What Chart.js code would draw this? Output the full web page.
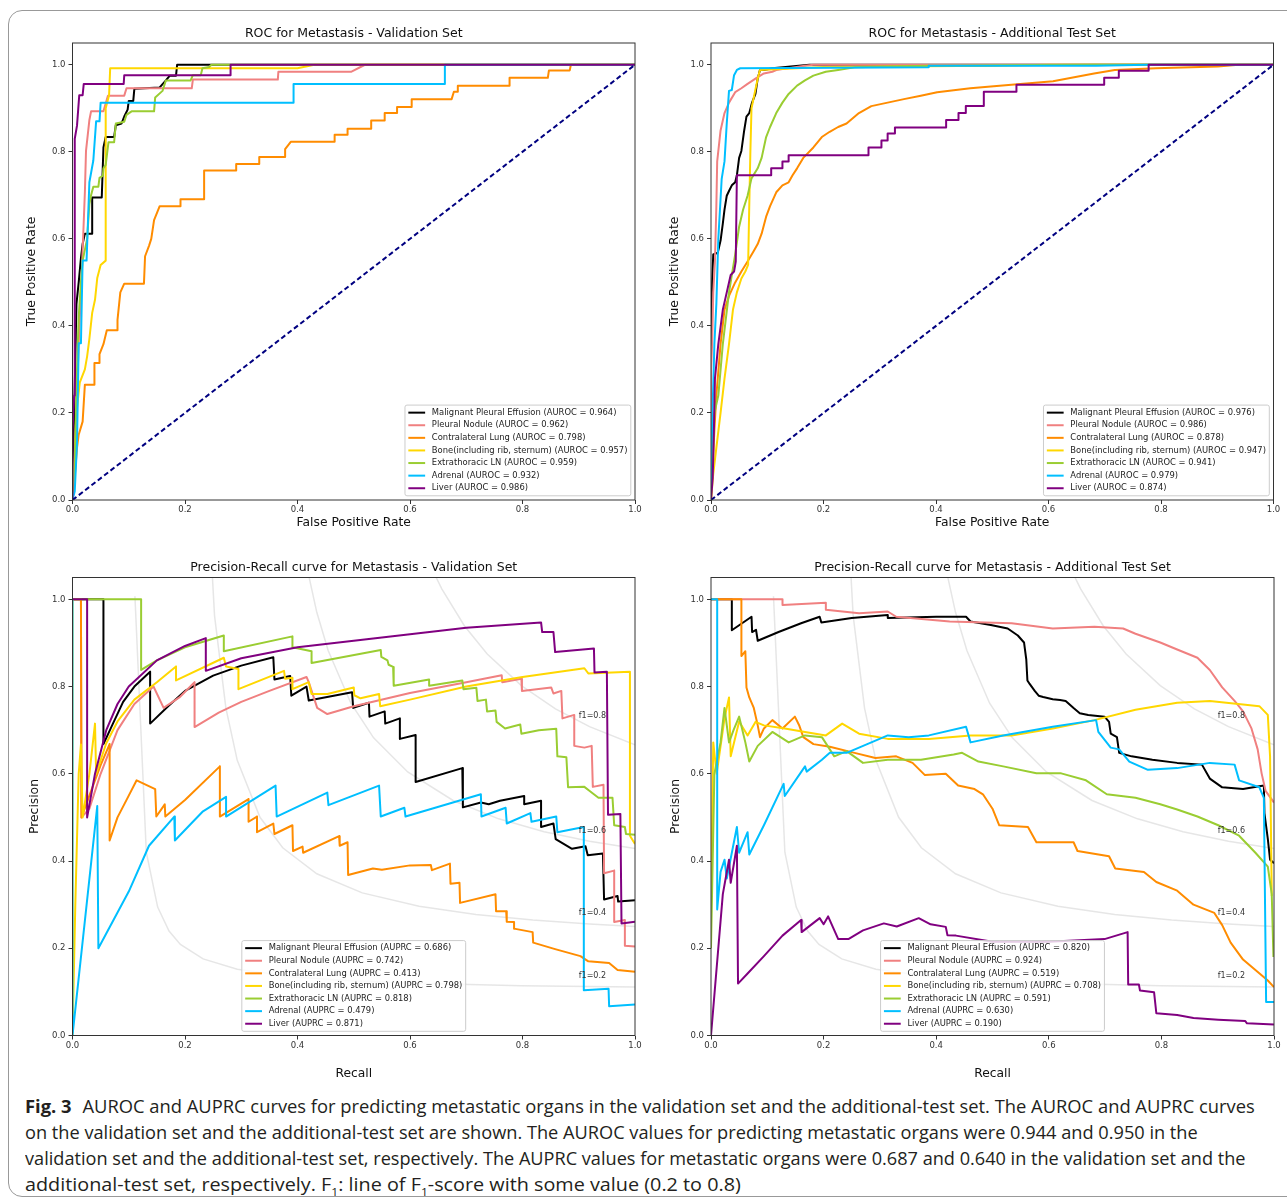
<!DOCTYPE html>
<html>
<head>
<meta charset="utf-8">
<script src="https://cdn.jsdelivr.net/npm/chart.js@4.4.1/dist/chart.umd.min.js"></script>
<style>
  body { margin: 0; width: 1287px; height: 1200px; background: #fff; position: relative; overflow: hidden; }
  .frame { position: absolute; left: 8px; top: 10px; width: 1330px; height: 1187px; border: 1.5px solid #999; border-radius: 14px; box-sizing: border-box; }
  canvas { position: absolute; }
  .cap { position: absolute; left: 25px; height: 26px; line-height: 26px; white-space: nowrap; transform-origin: 0 50%;
         font-family: "Open Sans", "Noto Sans", sans-serif; font-size: 18px; color: #231f20; }
  .cap b { margin-right: 6px; }
  .cap sub { font-size: 11px; line-height: 0; }
</style>
</head>
<body>
<div class="frame"></div>
<canvas id="rocVal"></canvas>
<canvas id="rocTest"></canvas>
<canvas id="prVal"></canvas>
<canvas id="prTest"></canvas>
<div class="cap" style="top:1093px"><b>Fig. 3</b> AUROC and AUPRC curves for predicting metastatic organs in the validation set and the additional-test set. The AUROC and AUPRC curves</div>
<div class="cap" style="top:1119px">on the validation set and the additional-test set are shown. The AUROC values for predicting metastatic organs were 0.944 and 0.950 in the</div>
<div class="cap" style="top:1145px">validation set and the additional-test set, respectively. The AUPRC values for metastatic organs were 0.687 and 0.640 in the validation set and the</div>
<div class="cap" style="top:1171px">additional-test set, respectively. F<sub>1</sub>: line of F<sub>1</sub>-score with some value (0.2 to 0.8)</div>
<script>
// ---- legend text ----
const organNames = ['Malignant Pleural Effusion', 'Pleural Nodule', 'Contralateral Lung', 'Bone(including rib, sternum)', 'Extrathoracic LN', 'Adrenal', 'Liver']
const organColors = ['black', 'lightcoral', 'darkorange', 'gold', 'yellowgreen', 'deepskyblue', 'purple']
const aurocVal = ['0.964', '0.962', '0.798', '0.957', '0.959', '0.932', '0.986']
const aurocTest = ['0.976', '0.986', '0.878', '0.947', '0.941', '0.979', '0.874']
const auprcVal = ['0.686', '0.742', '0.413', '0.798', '0.818', '0.479', '0.871']
const auprcTest = ['0.820', '0.924', '0.519', '0.708', '0.591', '0.630', '0.190']

const axisTicks = [0, 0.2, 0.4, 0.6, 0.8, 1.0]
const chance = [[0, 0], [1, 1]]

// ---- ROC, validation set [fpr, tpr] ----
const rocValMpe = [[0,0],[0.003,0.2],[0.007,0.45],[0.011,0.5],[0.015,0.556],[0.018,0.588],[0.022,0.612],[0.035,0.612],[0.035,0.695],[0.052,0.695],[0.055,0.81],[0.059,0.834],[0.074,0.834],[0.077,0.861],[0.087,0.865],[0.092,0.881],[0.098,0.897],[0.1,0.917],[0.108,0.917],[0.11,0.945],[0.155,0.948],[0.166,0.964],[0.173,0.975],[0.184,0.975],[0.186,1],[1,1]]
const rocValPn = [[0,0],[0.004,0.1],[0.008,0.25],[0.011,0.358],[0.017,0.54],[0.022,0.707],[0.024,0.802],[0.028,0.849],[0.03,0.873],[0.033,0.893],[0.055,0.893],[0.063,0.929],[0.092,0.929],[0.096,0.946],[0.212,0.946],[0.214,0.966],[0.365,0.966],[0.366,0.984],[0.496,0.984],[0.52,1],[1,1]]
const rocValCl = [[0,0],[0.005,0.07],[0.008,0.12],[0.011,0.15],[0.018,0.18],[0.022,0.265],[0.039,0.265],[0.039,0.315],[0.048,0.315],[0.048,0.335],[0.055,0.358],[0.061,0.39],[0.08,0.39],[0.08,0.414],[0.085,0.477],[0.092,0.497],[0.127,0.497],[0.129,0.56],[0.136,0.584],[0.14,0.6],[0.145,0.643],[0.155,0.675],[0.192,0.675],[0.192,0.691],[0.234,0.691],[0.234,0.757],[0.291,0.757],[0.291,0.772],[0.332,0.772],[0.332,0.788],[0.378,0.788],[0.378,0.806],[0.388,0.823],[0.466,0.823],[0.466,0.839],[0.489,0.839],[0.489,0.853],[0.531,0.853],[0.531,0.872],[0.555,0.872],[0.555,0.889],[0.577,0.889],[0.577,0.903],[0.603,0.903],[0.603,0.921],[0.674,0.921],[0.678,0.938],[0.684,0.938],[0.685,0.952],[0.777,0.952],[0.777,0.97],[0.845,0.97],[0.847,0.987],[0.884,0.987],[0.886,1],[1,1]]
const rocValBone = [[0,0],[0.004,0.05],[0.007,0.2],[0.013,0.27],[0.022,0.3],[0.026,0.33],[0.03,0.37],[0.035,0.43],[0.04,0.46],[0.044,0.51],[0.05,0.54],[0.059,0.55],[0.059,0.9],[0.065,0.93],[0.067,0.992],[0.4,0.992],[0.43,1],[1,1]]
const rocValLn = [[0,0],[0.004,0.1],[0.008,0.3],[0.011,0.42],[0.015,0.5],[0.018,0.55],[0.026,0.6],[0.03,0.68],[0.033,0.7],[0.037,0.72],[0.046,0.72],[0.048,0.74],[0.054,0.745],[0.055,0.762],[0.059,0.77],[0.064,0.822],[0.074,0.822],[0.077,0.865],[0.092,0.869],[0.096,0.885],[0.105,0.893],[0.145,0.893],[0.147,0.925],[0.16,0.94],[0.166,0.964],[0.21,0.964],[0.214,0.976],[0.228,0.976],[0.231,0.992],[0.243,0.995],[0.247,1],[1,1]]
const rocValAdr = [[0,0],[0.004,0.02],[0.008,0.13],[0.011,0.36],[0.015,0.36],[0.018,0.55],[0.025,0.55],[0.03,0.73],[0.037,0.78],[0.042,0.87],[0.048,0.87],[0.05,0.913],[0.393,0.913],[0.393,0.956],[0.662,0.956],[0.662,1],[1,1]]
const rocValLiv = [[0,0],[0,0.16],[0.003,0.24],[0.004,0.83],[0.008,0.86],[0.012,0.93],[0.018,0.93],[0.02,0.956],[0.091,0.956],[0.092,0.976],[0.28,0.976],[0.281,1],[1,1]]

// ---- ROC, additional test set ----
const rocTestMpe = [[0,0],[0,0.35],[0.002,0.5],[0.004,0.564],[0.012,0.568],[0.017,0.596],[0.021,0.635],[0.024,0.667],[0.028,0.699],[0.032,0.71],[0.037,0.723],[0.043,0.73],[0.046,0.746],[0.05,0.786],[0.054,0.802],[0.059,0.849],[0.063,0.881],[0.068,0.889],[0.073,0.913],[0.079,0.933],[0.083,0.968],[0.087,0.988],[0.094,0.988],[0.109,0.992],[0.175,1],[1,1]]
const rocTestPn = [[0,0],[0,0.3],[0.002,0.358],[0.004,0.477],[0.007,0.548],[0.0095,0.675],[0.011,0.778],[0.017,0.849],[0.024,0.889],[0.032,0.913],[0.043,0.937],[0.054,0.946],[0.065,0.956],[0.079,0.968],[0.094,0.98],[0.109,0.984],[0.116,0.988],[0.167,0.998],[0.182,1],[1,1]]
const rocTestCl = [[0,0],[0.003,0.08],[0.006,0.16],[0.0095,0.24],[0.017,0.358],[0.024,0.437],[0.032,0.469],[0.043,0.5],[0.054,0.525],[0.065,0.548],[0.076,0.572],[0.083,0.588],[0.09,0.612],[0.098,0.651],[0.105,0.675],[0.116,0.707],[0.127,0.723],[0.138,0.73],[0.145,0.746],[0.153,0.762],[0.164,0.786],[0.182,0.81],[0.197,0.834],[0.211,0.846],[0.226,0.857],[0.241,0.865],[0.252,0.877],[0.263,0.889],[0.285,0.905],[0.314,0.913],[0.343,0.921],[0.373,0.929],[0.402,0.937],[0.461,0.946],[0.534,0.954],[0.608,0.962],[0.681,0.98],[0.718,0.988],[0.791,0.992],[0.901,0.996],[0.938,1],[1,1]]
const rocTestBone = [[0,0],[0.004,0.06],[0.0095,0.12],[0.017,0.2],[0.024,0.279],[0.032,0.358],[0.039,0.437],[0.046,0.477],[0.054,0.509],[0.061,0.525],[0.066,0.54],[0.068,0.675],[0.07,0.8],[0.072,0.9],[0.083,0.968],[0.087,0.988],[0.2,0.995],[0.5,0.998],[0.6,1],[1,1]]
const rocTestLn = [[0,0],[0.003,0.15],[0.006,0.2],[0.013,0.24],[0.021,0.358],[0.032,0.477],[0.043,0.564],[0.05,0.628],[0.057,0.667],[0.065,0.699],[0.072,0.739],[0.083,0.762],[0.09,0.786],[0.098,0.834],[0.105,0.857],[0.116,0.889],[0.127,0.913],[0.138,0.933],[0.153,0.952],[0.167,0.964],[0.182,0.975],[0.204,0.984],[0.226,0.988],[0.255,0.994],[0.387,0.998],[0.681,1],[1,1]]
const rocTestAdr = [[0,0],[0,0.05],[0.002,0.17],[0.006,0.358],[0.0095,0.45],[0.013,0.6],[0.019,0.738],[0.024,0.778],[0.028,0.865],[0.032,0.94],[0.037,0.942],[0.041,0.976],[0.046,0.988],[0.052,0.992],[0.387,0.994],[0.387,0.998],[0.685,0.998],[0.776,1],[1,1]]
const rocTestLiv = [[0,0],[0.003,0.05],[0.005,0.15],[0.007,0.279],[0.013,0.358],[0.021,0.437],[0.028,0.477],[0.035,0.517],[0.041,0.525],[0.044,0.548],[0.046,0.746],[0.107,0.746],[0.107,0.762],[0.127,0.762],[0.127,0.778],[0.138,0.778],[0.138,0.792],[0.28,0.792],[0.28,0.81],[0.303,0.81],[0.303,0.826],[0.314,0.826],[0.314,0.842],[0.327,0.842],[0.327,0.856],[0.418,0.856],[0.418,0.873],[0.44,0.873],[0.44,0.889],[0.453,0.889],[0.453,0.905],[0.485,0.905],[0.485,0.938],[0.543,0.938],[0.543,0.954],[0.699,0.954],[0.699,0.97],[0.725,0.97],[0.725,0.986],[0.778,0.986],[0.778,1],[1,1]]

// ---- PR, validation set [recall, precision] ----
const prValMpe = [[0,1],[0.055,1],[0.055,0.668],[0.07,0.71],[0.09,0.765],[0.11,0.8],[0.138,0.834],[0.138,0.715],[0.17,0.755],[0.2,0.79],[0.25,0.825],[0.3,0.848],[0.357,0.867],[0.359,0.816],[0.387,0.824],[0.389,0.779],[0.416,0.8],[0.42,0.768],[0.497,0.787],[0.499,0.751],[0.527,0.763],[0.528,0.731],[0.555,0.743],[0.556,0.715],[0.582,0.727],[0.582,0.68],[0.61,0.689],[0.61,0.581],[0.693,0.613],[0.694,0.523],[0.726,0.534],[0.74,0.53],[0.76,0.538],[0.803,0.549],[0.803,0.53],[0.833,0.538],[0.833,0.478],[0.855,0.486],[0.859,0.45],[0.888,0.428],[0.912,0.434],[0.916,0.413],[0.943,0.417],[0.945,0.312],[0.969,0.32],[0.97,0.307],[1,0.31]]
const prValPn = [[0,1],[0.015,1],[0.016,0.5],[0.03,0.52],[0.05,0.6],[0.08,0.7],[0.11,0.76],[0.144,0.8],[0.162,0.751],[0.19,0.775],[0.217,0.81],[0.217,0.707],[0.26,0.74],[0.3,0.765],[0.35,0.79],[0.416,0.822],[0.42,0.81],[0.435,0.751],[0.453,0.737],[0.5,0.755],[0.6,0.785],[0.7,0.81],[0.763,0.826],[0.764,0.81],[0.798,0.818],[0.799,0.79],[0.851,0.798],[0.855,0.784],[0.869,0.79],[0.871,0.727],[0.892,0.735],[0.892,0.664],[0.91,0.66],[0.923,0.664],[0.925,0.57],[0.944,0.575],[0.945,0.372],[0.963,0.378],[0.963,0.26],[0.982,0.265],[0.982,0.206],[1,0.204]]
const prValCl = [[0,1],[0.015,1],[0.016,0.5],[0.03,0.55],[0.05,0.62],[0.066,0.668],[0.066,0.447],[0.08,0.5],[0.1,0.55],[0.114,0.585],[0.147,0.565],[0.149,0.502],[0.164,0.53],[0.165,0.502],[0.2,0.54],[0.262,0.617],[0.262,0.502],[0.313,0.542],[0.313,0.49],[0.328,0.502],[0.328,0.466],[0.357,0.486],[0.359,0.462],[0.391,0.482],[0.392,0.423],[0.409,0.433],[0.41,0.419],[0.474,0.457],[0.475,0.435],[0.489,0.443],[0.49,0.368],[0.534,0.383],[0.55,0.38],[0.6,0.39],[0.637,0.391],[0.639,0.379],[0.671,0.394],[0.672,0.348],[0.688,0.35],[0.689,0.304],[0.752,0.324],[0.753,0.285],[0.771,0.285],[0.772,0.261],[0.785,0.26],[0.785,0.245],[0.818,0.237],[0.819,0.213],[0.858,0.198],[0.903,0.182],[0.917,0.17],[0.954,0.166],[0.969,0.15],[1,0.146]]
const prValBone = [[0,1],[0,0],[0.005,0.3],[0.011,0.6],[0.015,0.667],[0.018,0.5],[0.03,0.6],[0.04,0.715],[0.042,0.6],[0.06,0.67],[0.08,0.72],[0.11,0.77],[0.15,0.81],[0.184,0.846],[0.184,0.814],[0.269,0.866],[0.273,0.846],[0.295,0.84],[0.295,0.794],[0.376,0.836],[0.378,0.818],[0.391,0.82],[0.391,0.794],[0.42,0.81],[0.425,0.783],[0.453,0.783],[0.5,0.798],[0.501,0.78],[0.512,0.773],[0.545,0.783],[0.547,0.755],[0.6,0.77],[0.7,0.8],[0.8,0.822],[0.91,0.842],[0.917,0.83],[0.991,0.834],[0.991,0.458],[1,0.439]]
const prValLn = [[0,1],[0.122,1],[0.122,0.838],[0.15,0.86],[0.2,0.89],[0.269,0.917],[0.269,0.881],[0.391,0.915],[0.391,0.89],[0.425,0.881],[0.425,0.854],[0.548,0.884],[0.549,0.868],[0.56,0.86],[0.562,0.85],[0.57,0.845],[0.571,0.802],[0.634,0.816],[0.634,0.802],[0.693,0.814],[0.695,0.794],[0.718,0.797],[0.72,0.767],[0.735,0.77],[0.737,0.743],[0.752,0.745],[0.754,0.719],[0.769,0.704],[0.796,0.713],[0.798,0.692],[0.829,0.7],[0.86,0.703],[0.862,0.64],[0.878,0.638],[0.881,0.569],[0.91,0.57],[0.92,0.56],[0.935,0.545],[0.96,0.545],[0.963,0.482],[0.982,0.478],[0.984,0.462],[1,0.46]]
const prValAdr = [[0,1],[0,0],[0.044,0.526],[0.046,0.2],[0.1,0.33],[0.136,0.435],[0.181,0.502],[0.182,0.447],[0.232,0.514],[0.273,0.547],[0.273,0.502],[0.361,0.573],[0.363,0.502],[0.453,0.557],[0.455,0.528],[0.545,0.573],[0.548,0.502],[0.59,0.522],[0.592,0.502],[0.726,0.553],[0.727,0.502],[0.77,0.522],[0.772,0.486],[0.814,0.51],[0.816,0.49],[0.86,0.502],[0.862,0.466],[0.909,0.478],[0.909,0.104],[0.953,0.107],[0.954,0.067],[1,0.071]]
const prValLiv = [[0,1],[0.026,1],[0.026,0.5],[0.04,0.6],[0.06,0.7],[0.08,0.76],[0.1,0.8],[0.15,0.86],[0.2,0.893],[0.237,0.911],[0.237,0.836],[0.3,0.865],[0.4,0.89],[0.5,0.905],[0.6,0.92],[0.7,0.935],[0.833,0.947],[0.835,0.925],[0.855,0.925],[0.858,0.879],[0.927,0.887],[0.928,0.832],[0.95,0.834],[0.952,0.506],[0.974,0.508],[0.976,0.257],[1,0.261]]

// ---- PR, additional test set ----
const prTestMpe = [[0,1],[0.037,1],[0.037,0.929],[0.072,0.96],[0.073,0.925],[0.08,0.93],[0.083,0.905],[0.12,0.925],[0.16,0.945],[0.193,0.96],[0.196,0.947],[0.25,0.957],[0.314,0.964],[0.314,0.957],[0.4,0.96],[0.453,0.96],[0.461,0.949],[0.497,0.941],[0.527,0.933],[0.545,0.917],[0.556,0.901],[0.56,0.862],[0.562,0.814],[0.566,0.806],[0.575,0.79],[0.582,0.779],[0.59,0.776],[0.607,0.771],[0.62,0.769],[0.63,0.767],[0.644,0.751],[0.655,0.739],[0.67,0.735],[0.699,0.731],[0.707,0.719],[0.71,0.692],[0.721,0.684],[0.725,0.648],[0.747,0.64],[0.784,0.632],[0.828,0.625],[0.872,0.621],[0.886,0.589],[0.908,0.569],[0.945,0.565],[0.982,0.573],[0.983,0.51],[0.989,0.451],[0.993,0.403],[1,0.395]]
const prTestPn = [[0,1],[0.127,1],[0.127,0.987],[0.204,0.992],[0.204,0.976],[0.263,0.968],[0.314,0.972],[0.329,0.96],[0.424,0.949],[0.534,0.945],[0.607,0.933],[0.681,0.937],[0.732,0.933],[0.754,0.921],[0.798,0.901],[0.828,0.885],[0.864,0.866],[0.886,0.838],[0.908,0.798],[0.93,0.767],[0.945,0.743],[0.96,0.704],[0.971,0.656],[0.978,0.601],[0.985,0.561],[1,0.534]]
const prTestCl = [[0,1],[0.054,1],[0.054,0.87],[0.061,0.881],[0.063,0.798],[0.068,0.775],[0.076,0.751],[0.083,0.711],[0.087,0.684],[0.094,0.704],[0.109,0.723],[0.127,0.704],[0.149,0.731],[0.157,0.71],[0.164,0.684],[0.182,0.668],[0.211,0.662],[0.255,0.648],[0.292,0.636],[0.329,0.64],[0.358,0.625],[0.38,0.597],[0.417,0.6],[0.439,0.573],[0.468,0.565],[0.483,0.553],[0.5,0.52],[0.512,0.482],[0.563,0.478],[0.578,0.443],[0.644,0.443],[0.651,0.423],[0.707,0.411],[0.718,0.383],[0.769,0.375],[0.791,0.352],[0.828,0.332],[0.857,0.3],[0.894,0.281],[0.908,0.253],[0.923,0.213],[0.945,0.174],[0.967,0.15],[0.989,0.126],[1,0.111]]
const prTestBone = [[0,0.3],[0.004,0.672],[0.01,0.6],[0.024,0.727],[0.032,0.775],[0.035,0.64],[0.05,0.72],[0.065,0.688],[0.079,0.719],[0.094,0.711],[0.131,0.704],[0.167,0.696],[0.204,0.688],[0.233,0.715],[0.263,0.692],[0.314,0.68],[0.387,0.68],[0.461,0.688],[0.534,0.688],[0.607,0.704],[0.681,0.723],[0.754,0.747],[0.828,0.763],[0.886,0.767],[0.945,0.759],[0.974,0.755],[0.989,0.735],[0.993,0.64],[0.996,0.32]]
const prTestLn = [[0,0.2],[0.006,0.6],[0.017,0.672],[0.024,0.751],[0.032,0.672],[0.04,0.7],[0.05,0.731],[0.061,0.672],[0.068,0.628],[0.083,0.664],[0.109,0.696],[0.138,0.672],[0.167,0.688],[0.197,0.684],[0.219,0.64],[0.241,0.652],[0.27,0.625],[0.314,0.632],[0.373,0.632],[0.431,0.644],[0.446,0.648],[0.475,0.628],[0.519,0.617],[0.578,0.601],[0.622,0.601],[0.666,0.585],[0.703,0.553],[0.754,0.545],[0.798,0.53],[0.828,0.518],[0.864,0.502],[0.901,0.482],[0.938,0.458],[0.967,0.419],[0.989,0.387],[0.996,0.324],[0.999,0.18]]
const prTestAdr = [[0,1],[0.011,1],[0.011,0.289],[0.017,0.375],[0.024,0.403],[0.028,0.36],[0.046,0.478],[0.05,0.419],[0.065,0.466],[0.068,0.415],[0.094,0.482],[0.129,0.577],[0.131,0.549],[0.167,0.617],[0.17,0.605],[0.197,0.632],[0.211,0.648],[0.241,0.648],[0.314,0.688],[0.351,0.684],[0.387,0.688],[0.453,0.708],[0.461,0.672],[0.519,0.688],[0.607,0.708],[0.684,0.723],[0.688,0.696],[0.71,0.66],[0.725,0.656],[0.743,0.628],[0.776,0.609],[0.828,0.613],[0.886,0.625],[0.93,0.621],[0.938,0.585],[0.974,0.569],[0.982,0.545],[0.986,0.077],[1,0.077]]
const prTestLiv = [[0,0],[0.021,0.324],[0.032,0.403],[0.035,0.35],[0.046,0.435],[0.048,0.119],[0.065,0.142],[0.094,0.182],[0.127,0.229],[0.16,0.265],[0.161,0.237],[0.193,0.269],[0.2,0.255],[0.208,0.273],[0.226,0.221],[0.244,0.221],[0.27,0.241],[0.307,0.257],[0.33,0.25],[0.369,0.269],[0.39,0.255],[0.417,0.249],[0.42,0.23],[0.435,0.229],[0.5,0.215],[0.6,0.215],[0.699,0.221],[0.74,0.237],[0.741,0.117],[0.76,0.117],[0.762,0.103],[0.787,0.099],[0.791,0.051],[0.828,0.047],[0.857,0.04],[0.901,0.036],[0.949,0.033],[0.952,0.028],[1,0.025]]

// ---- iso-F1 reference lines (points of the gray curves) ----
const isoF1Levels = [0.2, 0.4, 0.6, 0.8]
const isoF1LabelY = [0.132, 0.276, 0.465, 0.728]
const isoF1_02 = [[0.111,1.007],[0.1312,0.4203],[0.1514,0.2944],[0.1716,0.2396],[0.1918,0.2089],[0.2322,0.1756],[0.2929,0.1519],[0.3939,0.134],[0.4949,0.1253],[0.596,0.1202],[0.798,0.1143],[1,0.1111]]
const isoF1_04 = [[0.212,3.522],[0.2322,1.4405],[0.2525,0.9626],[0.2727,0.7506],[0.2929,0.6308],[0.3333,0.5002],[0.3737,0.4303],[0.4343,0.3707],[0.5151,0.327],[0.6161,0.2961],[0.7171,0.2773],[0.8182,0.2647],[0.9192,0.2556],[1,0.25]]
const isoF1_06 = [[0.3333,3.006],[0.3535,1.983],[0.3737,1.5216],[0.3939,1.2587],[0.4141,1.0889],[0.4343,0.9702],[0.4545,0.8826],[0.4949,0.7618],[0.5353,0.6825],[0.5959,0.6042],[0.6767,0.5388],[0.7576,0.4967],[0.8384,0.4672],[0.9192,0.4453],[1,0.4286]]
const isoF1_08 = [[0.5151,1.79],[0.5555,1.429],[0.5959,1.2167],[0.6363,1.0771],[0.6565,1.0238],[0.6969,0.9389],[0.7373,0.8744],[0.798,0.802],[0.8586,0.7489],[0.9192,0.7082],[1,0.6667]]

const rocValCurves = [rocValMpe, rocValPn, rocValCl, rocValBone, rocValLn, rocValAdr, rocValLiv]
const rocTestCurves = [rocTestMpe, rocTestPn, rocTestCl, rocTestBone, rocTestLn, rocTestAdr, rocTestLiv]
const prValCurves = [prValMpe, prValPn, prValCl, prValBone, prValLn, prValAdr, prValLiv]
const prTestCurves = [prTestMpe, prTestPn, prTestCl, prTestBone, prTestLn, prTestAdr, prTestLiv]
const isoF1Curves = [isoF1_02, isoF1_04, isoF1_06, isoF1_08]

const FONT = '"DejaVu Sans", sans-serif'
Chart.defaults.font.family = FONT

// title, box frame, iso-F1 labels and the legend drawn over the plot area
const panelDecor = {
  id: 'panelDecor',
  afterDraw(chart, args, opts) {
    const { ctx, chartArea: a, scales } = chart
    ctx.save()
    ctx.strokeStyle = '#333'
    ctx.lineWidth = 1
    ctx.strokeRect(a.left, a.top, a.right - a.left, a.bottom - a.top)

    ctx.fillStyle = '#111'
    ctx.font = `12.5px ${FONT}`
    ctx.textAlign = 'center'
    ctx.textBaseline = 'middle'
    ctx.fillText(opts.title, (a.left + a.right) / 2, a.top - opts.titleGap)

    if (opts.isoLabels) {
      ctx.font = `8px ${FONT}`
      ctx.textAlign = 'left'
      ctx.textBaseline = 'alphabetic'
      ctx.fillStyle = '#333'
      isoF1Levels.forEach((f, i) => {
        ctx.fillText('f1=' + f.toFixed(1), scales.x.getPixelForValue(0.9), scales.y.getPixelForValue(isoF1LabelY[i]))
      })
    }

    // legend, matplotlib style
    const items = chart.data.datasets.filter(d => d.label)
    const fs = 8.4
    ctx.font = `${fs}px ${FONT}`
    const tw = Math.max(...items.map(d => ctx.measureText(d.label).width))
    const bp = 0.4 * fs, hl = 2 * fs, hp = 0.8 * fs, ls = 0.5 * fs
    const w = bp + hl + hp + tw + bp
    const h = 2 * bp + items.length * fs + (items.length - 1) * ls
    const left = opts.legendPos === 'lower right' ? a.right - 0.5 * fs - w : (a.left + a.right) / 2 - w / 2
    const top = a.bottom - 0.5 * fs - h
    ctx.beginPath()
    if (ctx.roundRect) ctx.roundRect(left, top, w, h, 2)
    else ctx.rect(left, top, w, h)
    ctx.fillStyle = 'rgba(255,255,255,0.8)'
    ctx.fill()
    ctx.strokeStyle = '#cccccc'
    ctx.lineWidth = 1
    ctx.stroke()
    ctx.textAlign = 'left'
    ctx.textBaseline = 'middle'
    items.forEach((d, i) => {
      const y = top + bp + fs / 2 + i * (fs + ls)
      ctx.beginPath()
      ctx.moveTo(left + bp, y)
      ctx.lineTo(left + bp + hl, y)
      ctx.strokeStyle = d.borderColor
      ctx.lineWidth = 2
      ctx.stroke()
      ctx.fillStyle = '#222'
      ctx.fillText(d.label, left + bp + hl + hp, y)
    })
    ctx.restore()
  }
}

function makePanel(p) {
  const cv = document.getElementById(p.id)
  const [bx, by, bw, bh] = p.box
  const [L, T, R, B] = p.area
  cv.width = bw
  cv.height = bh
  Object.assign(cv.style, { left: bx + 'px', top: by + 'px', width: bw + 'px', height: bh + 'px' })

  const sets = []
  const n = p.extraBefore.length + p.curves.length + p.extraAfter.length
  let k = 0
  const push = ds => { ds.order = n - k; k++; sets.push(ds) }
  p.extraBefore.forEach(d => push(d))
  p.curves.forEach((c, i) => push({
    label: `${organNames[i]} (${p.metric} = ${p.scores[i]})`,
    data: c,
    borderColor: organColors[i],
    borderWidth: 2,
    borderJoinStyle: 'round'
  }))
  p.extraAfter.forEach(d => push(d))
  sets.forEach(d => Object.assign(d, { showLine: true, pointRadius: 0, pointHoverRadius: 0, tension: 0, fill: false }))

  const tickFont = { family: FONT, size: 8.5 }
  const titleFont = { family: FONT, size: 12.3 }
  new Chart(cv.getContext('2d'), {
    type: 'scatter',
    data: { datasets: sets },
    options: {
      responsive: false,
      animation: false,
      events: [],
      layout: { padding: { left: L - bx - p.wy, top: T - by, right: bx + bw - R, bottom: by + bh - B - p.hx } },
      plugins: {
        legend: { display: false },
        tooltip: { enabled: false },
        panelDecor: { title: p.title, titleGap: p.titleGap, legendPos: p.legendPos, isoLabels: p.isoLabels }
      },
      scales: {
        x: {
          type: 'linear', min: 0, max: 1,
          afterBuildTicks: s => { s.ticks = axisTicks.map(v => ({ value: v })) },
          afterFit: s => { s.height = p.hx; s.paddingLeft = 0; s.paddingRight = 0 },
          ticks: { font: tickFont, color: '#333', padding: 1, maxRotation: 0, callback: v => Number(v).toFixed(1) },
          grid: { drawOnChartArea: false, tickLength: 4, color: '#333' },
          border: { display: false },
          title: { display: true, text: p.xTitle, font: titleFont, color: '#111', padding: { top: 0, bottom: 0 } }
        },
        y: {
          type: 'linear', min: 0, max: 1.05,
          afterBuildTicks: s => { s.ticks = axisTicks.map(v => ({ value: v })) },
          afterFit: s => { s.width = p.wy; s.paddingTop = 0; s.paddingBottom = 0 },
          ticks: { font: tickFont, color: '#333', padding: 3, callback: v => Number(v).toFixed(1) },
          grid: { drawOnChartArea: false, tickLength: 4, color: '#333' },
          border: { display: false },
          title: { display: true, text: p.yTitle, font: titleFont, color: '#111', padding: { top: p.yTitlePad, bottom: 0 } }
        }
      }
    },
    plugins: [panelDecor]
  })
}

const diagonal = () => ({ data: chance, borderColor: 'navy', borderWidth: 2, borderDash: [5, 3] })
const isoLines = () => isoF1Curves.map(c => ({ data: c, borderColor: 'rgba(128,128,128,0.2)', borderWidth: 1.5 }))

makePanel({ id: 'rocVal', box: [0, 15, 650, 525], area: [72.5, 43, 635, 500], wy: 48, hx: 30.4, yTitlePad: 0,
  title: 'ROC for Metastasis - Validation Set', titleGap: 9, xTitle: 'False Positive Rate', yTitle: 'True Positive Rate',
  curves: rocValCurves, metric: 'AUROC', scores: aurocVal, extraBefore: [], extraAfter: [diagonal()], legendPos: 'lower right', isoLabels: false })
makePanel({ id: 'rocTest', box: [650, 15, 637, 525], area: [711, 43, 1273.5, 500], wy: 48, hx: 30.4, yTitlePad: 4.7,
  title: 'ROC for Metastasis - Additional Test Set', titleGap: 9, xTitle: 'False Positive Rate', yTitle: 'True Positive Rate',
  curves: rocTestCurves, metric: 'AUROC', scores: aurocTest, extraBefore: [], extraAfter: [diagonal()], legendPos: 'lower right', isoLabels: false })
makePanel({ id: 'prVal', box: [0, 550, 650, 540], area: [72.5, 577.5, 635, 1035.5], wy: 48, hx: 45.3, yTitlePad: 3.3,
  title: 'Precision-Recall curve for Metastasis - Validation Set', titleGap: 9.5, xTitle: 'Recall', yTitle: 'Precision',
  curves: prValCurves, metric: 'AUPRC', scores: auprcVal, extraBefore: isoLines(), extraAfter: [], legendPos: 'lower center', isoLabels: true })
makePanel({ id: 'prTest', box: [650, 550, 637, 540], area: [711, 577.5, 1274, 1035.5], wy: 48, hx: 45.3, yTitlePad: 5.9,
  title: 'Precision-Recall curve for Metastasis - Additional Test Set', titleGap: 9.5, xTitle: 'Recall', yTitle: 'Precision',
  curves: prTestCurves, metric: 'AUPRC', scores: auprcTest, extraBefore: isoLines(), extraAfter: [], legendPos: 'lower center', isoLabels: true })

// squeeze each caption line to the width it has in the figure
const captionWidths = [1230, 1173, 1221, 716]
document.querySelectorAll('.cap').forEach((el, i) => {
  el.style.transform = `scaleX(${captionWidths[i] / el.scrollWidth})`
})
</script>
</body>
</html>
